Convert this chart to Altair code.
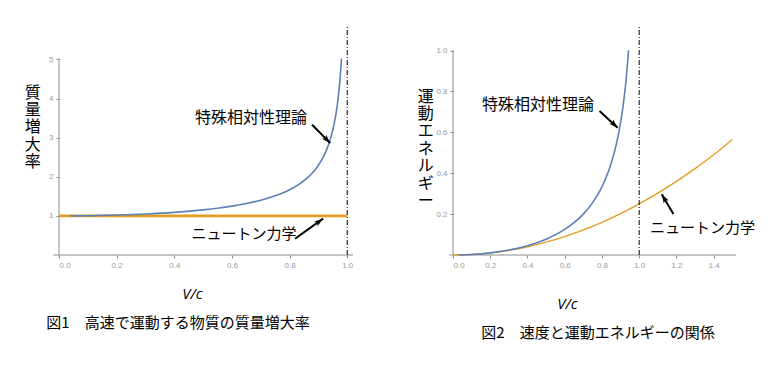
import altair as alt
import pandas as pd

# ---------------- data ----------------
# Fig.1 : mass increase ratio
v_rel1 = [0.04, 0.10, 0.20, 0.30, 0.40, 0.50, 0.55, 0.60, 0.65, 0.70, 0.75, 0.80,
          0.84, 0.87, 0.885, 0.90, 0.92, 0.93, 0.94, 0.95, 0.96, 0.965, 0.97, 0.975, 0.978, 0.98]
m_rel1 = [1.001, 1.005, 1.021, 1.048, 1.091, 1.155, 1.197, 1.250, 1.316, 1.400, 1.512, 1.667,
          1.843, 2.028, 2.148, 2.294, 2.552, 2.721, 2.931, 3.203, 3.571, 3.813, 4.113, 4.500, 4.794, 5.025]
v_newt1 = [0.0, 1.0]
m_newt1 = [1.0, 1.0]

# Fig.2 : kinetic energy
v_rel2 = [0.03, 0.10, 0.20, 0.30, 0.40, 0.50, 0.60, 0.65, 0.70, 0.75, 0.80, 0.84,
          0.87, 0.89, 0.90, 0.91, 0.92, 0.93, 0.94, 0.943]
k_rel2 = [0.0002, 0.0025, 0.0103, 0.0242, 0.0455, 0.0774, 0.125, 0.158, 0.200, 0.256, 0.333, 0.422,
          0.514, 0.597, 0.647, 0.706, 0.776, 0.860, 0.966, 1.002]
v_newt2 = [0.0, 0.1, 0.2, 0.3, 0.4, 0.5, 0.6, 0.7, 0.8, 0.9, 1.0, 1.1, 1.2, 1.3, 1.4, 1.5]
k_newt2 = [0.0, 0.0025, 0.010, 0.0225, 0.040, 0.0625, 0.090, 0.1225, 0.160, 0.2025, 0.250,
           0.3025, 0.360, 0.4225, 0.490, 0.5650]

x1_ticks = [0.0, 0.2, 0.4, 0.6, 0.8, 1.0]
y1_ticks = [1, 2, 3, 4, 5]
x2_ticks = [0.0, 0.2, 0.4, 0.6, 0.8, 1.0, 1.2, 1.4]
y2_ticks = [0.2, 0.4, 0.6, 0.8, 1.0]

limit_v = [1.0]

y1_title = ["質", "量", "増", "大", "率"]
y2_title = ["運", "動", "エ", "ネ", "ル", "ギ", "ー"]
x_title = "V/c"
caption1 = "図1　高速で運動する物質の質量増大率"
caption2 = "図2　速度と運動エネルギーの関係"

label_rel = "特殊相対性理論"
label_newt = "ニュートン力学"

# annotation anchors (data units): text centre, arrow start, arrow end, arrow angle
ann1 = {"rel": (0.666, 3.51), "newt": (0.642, 0.545)}
arr1 = [(0.878, 3.33, 0.941, 2.86, 136.5), (0.819, 0.417, 0.916, 0.93, 54.5)]
ann2 = {"rel": (0.456, 0.733), "newt": (1.340, 0.132)}
arr2 = [(0.787, 0.704, 0.884, 0.622, 133.4), (1.184, 0.200, 1.121, 0.297, 329.0)]

BLUE = "#5E81B5"
ORANGE = "#E19C24"
AXIS_GRAY = "#8c8c8c"
LABEL_GRAY = "#9a9a9a"
JP = "Noto Sans CJK JP"
ARROW = "M0,0 L0.55,1.7 L0,1.3 L-0.55,1.7 Z"


def panel(width, height, xdom, ydom, xticks, yticks, ytitle, ytitle_x, ytitle_y,
          xtitle_x, xtitle_y, rel_v, rel_y, newt_v, newt_y, newt_width, ann, arrows,
          yaxis_top, caption, cap_x, cap_y):
    xs = alt.Scale(domain=xdom, nice=False, zero=False)
    ys = alt.Scale(domain=ydom, nice=False, zero=False)
    xax = alt.Axis(values=xticks, format=".1f", domain=False, grid=False,
                   labelColor=LABEL_GRAY, labelFontSize=8, labelFont="Liberation Sans",
                   labelPadding=3, tickColor=AXIS_GRAY, tickSize=3,
                   title=x_title, titleFont="Open Sans", titleFontStyle="italic",
                   titleFontWeight="normal", titleFontSize=15, titleColor="black",
                   titleX=xtitle_x, titleY=xtitle_y, titleAlign="center",
                   titleBaseline="middle", titleAngle=0)
    yax = alt.Axis(values=yticks, domain=False, grid=False,
                   labelColor=LABEL_GRAY, labelFontSize=8, labelFont="Liberation Sans",
                   labelPadding=3, tickColor=AXIS_GRAY, tickSize=3,
                   title=ytitle, titleFont=JP, titleFontWeight="normal", titleFontSize=16,
                   titleColor="black", titleAngle=0, titleX=ytitle_x, titleY=ytitle_y,
                   titleAlign="center", titleBaseline="top", titleLineHeight=17.4)
    X = alt.X("x:Q", scale=xs, axis=xax)
    Y = alt.Y("y:Q", scale=ys, axis=yax)

    axes_df = pd.DataFrame({
        "x": [-0.02, 0.0],
        "y": [0.0, 0.0],
        "x2": [xdom[1], 0.0],
        "y2": [0.0, yaxis_top],
    })
    axes = alt.Chart(axes_df).mark_rule(color=AXIS_GRAY, strokeWidth=1).encode(
        x=X, y=Y, x2="x2:Q", y2="y2:Q")

    newt = alt.Chart(pd.DataFrame({"x": newt_v, "y": newt_y})).mark_line(
        color=ORANGE, strokeWidth=newt_width, interpolate="monotone").encode(x=X, y=Y)
    rel = alt.Chart(pd.DataFrame({"x": rel_v, "y": rel_y})).mark_line(
        color=BLUE, strokeWidth=1.6, interpolate="monotone").encode(x=X, y=Y)

    vline = alt.Chart(pd.DataFrame({"x": limit_v, "y": [ydom[0]], "y2": [ydom[1]]})).mark_rule(
        color="black", strokeWidth=1, strokeDash=[5, 2, 1, 2]).encode(x=X, y=Y, y2="y2:Q")

    txt_df = pd.DataFrame({
        "x": [ann["rel"][0], ann["newt"][0]],
        "y": [ann["rel"][1], ann["newt"][1]],
        "t": [label_rel, label_newt],
        "fs": [16, 15],
    })
    texts = alt.Chart(txt_df).mark_text(font=JP, color="black", align="center",
                                        baseline="middle").encode(
        x=X, y=Y, text="t:N", size=alt.Size("fs:Q", scale=None, legend=None))

    arr_df = pd.DataFrame({
        "x": [a[0] for a in arrows], "y": [a[1] for a in arrows],
        "x2": [a[2] for a in arrows], "y2": [a[3] for a in arrows],
    })
    shafts = alt.Chart(arr_df).mark_rule(color="black", strokeWidth=2).encode(
        x=X, y=Y, x2="x2:Q", y2="y2:Q")
    head_df = pd.DataFrame({
        "x": [a[2] for a in arrows], "y": [a[3] for a in arrows],
        "ang": [a[4] for a in arrows],
    })
    heads = alt.Chart(head_df).mark_point(shape=ARROW, filled=True, size=110,
                                          color="black", opacity=1, strokeWidth=0).encode(
        x=X, y=Y, angle=alt.Angle("ang:Q", scale=None))

    cap = alt.Chart(pd.DataFrame({"t": [caption]})).mark_text(
        font=JP, fontSize=15, color="black", align="center", baseline="middle").encode(
        x=alt.value(cap_x), y=alt.value(cap_y), text="t:N")

    return alt.layer(axes, newt, rel, vline, shafts, heads, texts, cap).properties(
        width=width, height=height)


left = panel(294, 228, [0.0, 1.02], [0.0, 5.83], x1_ticks, y1_ticks, y1_title,
             -26.7, 57, 133, 38, v_rel1, m_rel1, v_newt1, m_newt1, 2.6, ann1, arr1,
             5.03, caption1, 119, 296)
right = panel(283, 228, [0.0, 1.52], [0.0, 1.115], x2_ticks, y2_ticks, y2_title,
              -27.7, 61, 114, 48, v_rel2, k_rel2, v_newt2, k_newt2, 1.3, ann2, arr2,
              1.003, caption2, 145, 306)

chart = alt.hconcat(left, right, spacing=100, bounds="flush").properties(
    padding={"left": 16, "top": 18, "right": 5, "bottom": 5},
    background="white",
).configure_view(strokeWidth=0)

chart.save("out.html", embed_options={"renderer": "svg", "actions": False})
